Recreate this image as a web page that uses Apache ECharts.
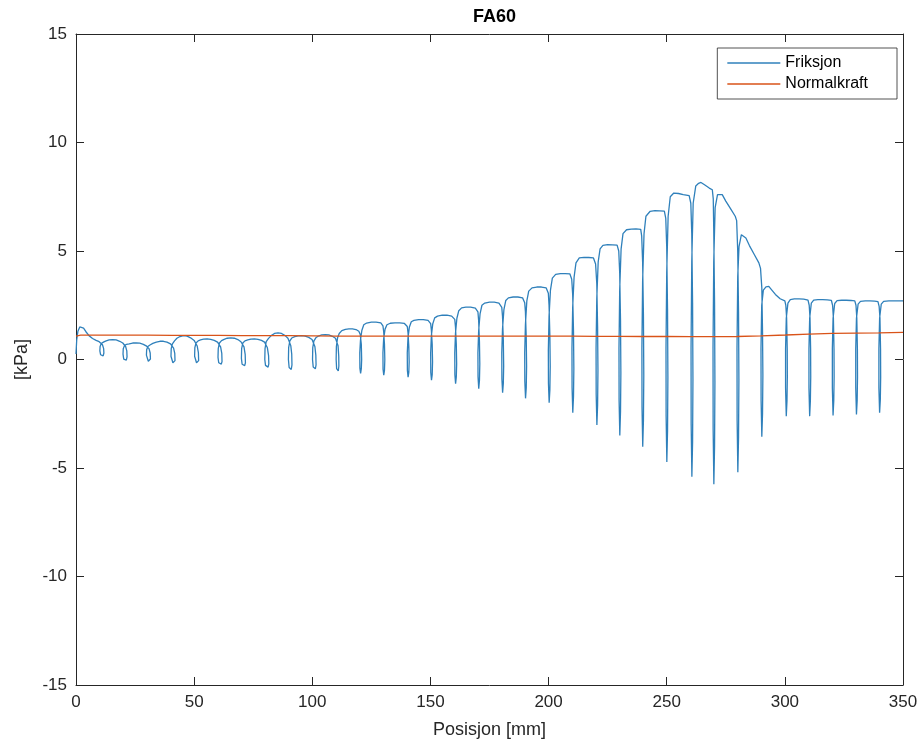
<!DOCTYPE html>
<html>
<head>
<meta charset="utf-8">
<script src="https://cdn.jsdelivr.net/npm/echarts@6/dist/echarts.min.js"></script>
<style>
html,body{margin:0;padding:0;background:#fff;}
#chart{width:921px;height:744px;}
</style>
</head>
<body>
<div id="chart"></div>
<script>
const titleText = 'FA60';
const seriesNames = ['Friksjon', 'Normalkraft'];
const xTicks = [0, 50, 100, 150, 200, 250, 300, 350];
const yTicks = [-15, -10, -5, 0, 5, 10, 15];

// Friksjon [x (mm), y (kPa)]
const friksjon = [
[0,0.25],[0.3,0.9],[0.8,1.3],[1.6,1.5],[2.4,1.53],[3.2,1.45],[4.2,1.28],[5.5,1.1],[7,0.97],[8.5,0.88],[9.8,0.82],
[10.5,0.78],[11.2,0.68],[11.7,0.5],[11.8,0.3],[11.5,0.17],[10.9,0.15],[10.4,0.22],[10.1,0.4],[10.2,0.6],[10.7,0.74],[11.6,0.8],
[12.5,0.85],[14,0.9],[15.5,0.92],[17,0.9],[18.5,0.84],[19.8,0.76],
[20.3,0.72],[21.0,0.6],[21.5,0.4],[21.6,0.12],[21.3,-0.03],[20.7,-0.05],[20.2,0.02],[19.9,0.25],[20.0,0.5],[20.5,0.64],[21.4,0.7],
[22.5,0.72],[24,0.76],[25.5,0.77],[27,0.75],[28.5,0.7],[29.7,0.63],
[30.2,0.6],[30.9,0.5],[31.4,0.3],[31.5,0.02],[31.2,-0.07],[30.6,-0.08],[30.1,-0.02],[29.8,0.2],[29.9,0.45],[30.4,0.6],[31.3,0.67],
[32.5,0.74],[34,0.8],[35.5,0.84],[37,0.84],[38.5,0.8],[40,0.72],
[40.6,0.68],[41.3,0.52],[41.8,0.28],[41.9,-0.05],[41.6,-0.14],[41.0,-0.15],[40.5,-0.08],[40.2,0.15],[40.3,0.5],[40.8,0.72],[41.7,0.86],
[42.7,0.98],[44,1.06],[45.5,1.1],[47,1.08],[48.5,1.0],[50,0.88],
[50.6,0.82],[51.3,0.62],[51.8,0.32],[51.9,-0.05],[51.6,-0.14],[51.0,-0.15],[50.5,-0.08],[50.2,0.15],[50.3,0.55],[50.8,0.76],[51.7,0.86],
[52.7,0.9],[54,0.94],[55.5,0.95],[57,0.93],[58.5,0.88],[59.9,0.8],
[60.5,0.76],[61.2,0.58],[61.7,0.28],[61.8,-0.1],[61.5,-0.21],[60.9,-0.23],[60.4,-0.15],[60.1,0.1],[60.2,0.5],[60.7,0.76],[61.6,0.87],
[62.7,0.93],[64,0.98],[65.5,1.0],[67,0.98],[68.5,0.92],[69.8,0.82],
[70.4,0.77],[71.1,0.58],[71.6,0.24],[71.7,-0.15],[71.4,-0.28],[70.8,-0.3],[70.3,-0.22],[70.0,0.05],[70.1,0.5],[70.6,0.76],[71.5,0.86],
[72.7,0.9],[74,0.94],[75.5,0.95],[77,0.93],[78.5,0.88],[79.8,0.8],
[80.3,0.76],[81.0,0.54],[81.5,0.18],[81.6,-0.2],[81.3,-0.35],[80.7,-0.37],[80.2,-0.27],[79.9,0.0],[80.0,0.5],[80.5,0.82],[81.4,0.96],
[82.6,1.1],[84,1.2],[85.5,1.23],[87,1.2],[88.5,1.1],[89.7,0.98],
[90.2,0.92],[90.9,0.64],[91.3,0.25],[91.4,-0.25],[91.1,-0.46],[90.6,-0.49],[90.2,-0.37],[89.9,0.0],[90.0,0.55],[90.5,0.86],[91.3,0.99],
[92.6,1.05],[94,1.09],[95.5,1.1],[97,1.08],[98.5,1.02],[99.9,0.92],
[100.5,0.87],[101.1,0.6],[101.5,0.2],[101.6,-0.25],[101.3,-0.43],[100.8,-0.45],[100.4,-0.35],[100.1,0.0],[100.2,0.55],[100.7,0.86],[101.5,1.0],
[102.6,1.08],[104,1.13],[105.5,1.15],[107,1.13],[108.5,1.07],[109.8,0.98],
[110.4,0.92],[110.9,0.64],[111.2,0.15],[111.25,-0.3],[111.0,-0.53],[110.6,-0.56],[110.3,-0.42],[110.1,0.0],[110.2,0.6],[110.7,1.0],[111.4,1.2],
[112.5,1.33],[114,1.39],[115.5,1.41],[117,1.41],[118.5,1.38],[119.7,1.3],
[120.3,1.15],[120.75,0.7],[120.9,0.0],[120.75,-0.42],[120.45,-0.64],[120.15,-0.4],[120.1,0.3],[120.4,0.9],[121.0,1.35],[121.8,1.6],
[123,1.68],[125,1.72],[127,1.72],[129,1.69],[129.9,1.55],
[130.2,1.3],[130.55,0.7],[130.7,0.0],[130.55,-0.5],[130.25,-0.72],[129.95,-0.45],[129.9,0.3],[130.2,0.95],[130.8,1.4],[131.6,1.6],
[133,1.67],[135,1.69],[137,1.69],[139,1.66],[140.2,1.52],
[140.5,1.25],[140.85,0.6],[141.0,-0.1],[140.85,-0.6],[140.55,-0.81],[140.25,-0.5],[140.2,0.3],[140.5,1.0],[141.1,1.5],[141.9,1.74],
[143,1.8],[145,1.84],[147,1.84],[149,1.8],[150.1,1.65],
[150.4,1.35],[150.75,0.7],[150.9,-0.1],[150.75,-0.7],[150.45,-0.95],[150.15,-0.6],[150.1,0.3],[150.4,1.1],[151.0,1.65],[151.8,1.92],
[153,2.0],[155,2.04],[157,2.04],[159,2.0],[160.3,1.85],
[160.6,1.5],[160.95,0.7],[161.1,-0.2],[160.95,-0.8],[160.65,-1.12],[160.35,-0.7],[160.3,0.3],[160.6,1.2],[161.2,1.9],[162,2.25],
[163.2,2.38],[165,2.41],[167,2.41],[169,2.37],[170.1,2.2],
[170.4,1.8],[170.75,0.8],[170.9,-0.2],[170.75,-0.95],[170.45,-1.35],[170.15,-0.8],[170.1,0.3],[170.4,1.3],[171.0,2.1],[171.8,2.5],
[173,2.6],[175,2.64],[177,2.64],[179,2.6],[180.2,2.4],
[180.5,2.0],[180.85,0.9],[181.0,-0.3],[180.85,-1.1],[180.55,-1.53],[180.25,-0.9],[180.2,0.3],[180.5,1.4],[181.1,2.3],[181.9,2.72],
[183,2.84],[185,2.88],[187,2.88],[189,2.84],[189.9,2.62],
[190.2,2.2],[190.55,1.0],[190.7,-0.3],[190.55,-1.3],[190.25,-1.79],[189.95,-1.0],[189.9,0.3],[190.2,1.6],[190.8,2.7],[191.6,3.15],
[193,3.3],[195,3.34],[197,3.34],[199,3.3],[199.9,3.05],
[200.2,2.5],[200.55,1.1],[200.7,-0.3],[200.55,-1.4],[200.25,-1.99],[199.95,-1.1],[199.9,0.4],[200.2,2.0],[200.8,3.2],[201.6,3.75],
[203,3.92],[205,3.96],[207,3.96],[209,3.95],[209.8,3.7],
[210.2,3.0],[210.55,1.3],[210.7,-0.4],[210.55,-1.7],[210.25,-2.45],[209.95,-1.3],[209.9,0.5],[210.2,2.4],[210.8,3.8],[211.6,4.45],
[213,4.68],[215,4.71],[217,4.7],[219,4.68],[219.9,4.4],
[220.4,3.5],[220.75,1.5],[220.9,-0.5],[220.75,-2.1],[220.45,-3.02],[220.15,-1.6],[220.1,0.5],[220.4,2.8],[221.0,4.5],[221.8,5.1],
[223,5.26],[225,5.29],[227,5.28],[229,5.27],[229.7,5.0],
[230.1,4.0],[230.45,1.8],[230.6,-0.6],[230.45,-2.4],[230.15,-3.5],[229.85,-1.9],[229.8,0.5],[230.1,3.2],[230.7,5.1],[231.5,5.8],
[233,5.98],[235,6.01],[237,6.02],[239,6.0],[239.4,5.7],
[239.8,4.5],[240.15,2.0],[240.3,-0.7],[240.15,-2.8],[239.85,-4.02],[239.55,-2.2],[239.5,0.5],[239.8,3.6],[240.4,5.8],[241.2,6.6],
[243,6.83],[245,6.86],[247,6.85],[249,6.84],[249.6,6.5],
[250.0,5.2],[250.35,2.3],[250.5,-0.8],[250.35,-3.3],[250.05,-4.72],[249.75,-2.6],[249.7,0.5],[250.0,4.0],[250.6,6.6],[251.5,7.5],
[253,7.67],[255,7.65],[257,7.6],[259.5,7.55],[260.2,7.2],
[260.6,5.8],[260.95,2.6],[261.1,-0.9],[260.95,-3.8],[260.65,-5.4],[260.35,-3.0],[260.3,0.5],[260.6,4.5],[261.2,7.2],[262.3,8.0],
[263.5,8.12],[264.5,8.16],[266,8.05],[268,7.9],[269.3,7.82],[269.7,7.4],
[269.9,6.0],[270.25,2.6],[270.4,-1.0],[270.25,-4.0],[269.95,-5.75],[269.65,-3.2],[269.6,0.5],[269.9,4.5],[270.5,7.0],[271.5,7.6],
[272.3,7.67],[273.5,7.6],[275,7.3],[277,6.95],[279,6.6],[279.6,6.4],
[280.05,5.0],[280.4,2.2],[280.55,-0.9],[280.4,-3.6],[280.1,-5.19],[279.8,-2.8],[279.75,0.5],[280.05,3.8],[280.6,5.2],[281.6,5.75],
[282.3,5.8],[283.5,5.6],[285,5.25],[287,4.85],[289,4.45],[289.7,4.2],
[290.25,3.3],[290.55,1.3],[290.7,-0.7],[290.55,-2.5],[290.25,-3.56],[289.95,-1.9],[289.9,0.5],[290.2,2.5],[290.9,3.2],[292,3.35],
[293.2,3.37],[294.5,3.2],[296,3.0],[298,2.8],[300,2.7],[300.4,2.5],
[300.75,1.9],[301.0,0.5],[301.05,-0.8],[300.9,-1.9],[300.6,-2.61],[300.3,-1.3],[300.3,0.5],[300.6,1.9],[301.3,2.6],[302.3,2.76],
[304,2.79],[306,2.79],[308,2.78],[309.8,2.74],[310.3,2.5],
[310.65,1.9],[310.9,0.5],[310.95,-0.8],[310.8,-1.9],[310.5,-2.61],[310.2,-1.3],[310.2,0.5],[310.5,1.9],[311.2,2.6],[312.2,2.74],
[314,2.76],[316,2.76],[318,2.75],[319.7,2.72],[320.2,2.5],
[320.55,1.9],[320.8,0.5],[320.85,-0.8],[320.7,-1.9],[320.4,-2.58],[320.1,-1.3],[320.1,0.5],[320.4,1.9],[321.1,2.58],[322.1,2.71],
[324,2.73],[326,2.73],[328,2.72],[329.6,2.7],[330.1,2.5],
[330.45,1.9],[330.7,0.5],[330.75,-0.8],[330.6,-1.9],[330.3,-2.53],[330.0,-1.3],[330.0,0.5],[330.3,1.9],[331.0,2.55],[332,2.68],
[334,2.7],[336,2.7],[338,2.69],[339.4,2.67],[339.9,2.45],
[340.25,1.9],[340.5,0.5],[340.55,-0.8],[340.4,-1.85],[340.1,-2.45],[339.8,-1.3],[339.8,0.5],[340.1,1.9],[340.8,2.55],[341.8,2.68],
[344,2.7],[347,2.7],[350,2.7]
];

// Normalkraft [x (mm), y (kPa)]
const normalkraft = [
[0,1.08],[2,1.12],
[10.4,1.12],[10.8,1.2],[11.2,1.12],
[20.2,1.12],[20.6,1.2],[21.0,1.12],
[30.1,1.12],[30.5,1.2],[30.9,1.12],
[40.5,1.11],[40.9,1.19],[41.3,1.11],
[50.5,1.11],[50.9,1.19],[51.3,1.11],
[60.4,1.11],[60.8,1.19],[61.2,1.11],
[70.3,1.1],[70.7,1.18],[71.1,1.1],
[80.2,1.1],[80.6,1.18],[81.0,1.1],
[90.1,1.1],[90.5,1.18],[90.9,1.1],
[100.4,1.09],[100.8,1.17],[101.2,1.09],
[110.3,1.08],[110.7,1.16],[111.1,1.08],
[120.0,1.08],[120.4,1.16],[120.8,1.08],
[129.9,1.08],[130.3,1.16],[130.7,1.08],
[140.2,1.08],[140.6,1.16],[141.0,1.08],
[150.1,1.08],[150.5,1.16],[150.9,1.08],
[160.3,1.08],[160.7,1.16],[161.1,1.08],
[170.1,1.08],[170.5,1.16],[170.9,1.08],
[180.2,1.08],[180.6,1.16],[181.0,1.08],
[189.9,1.08],[190.3,1.16],[190.7,1.08],
[199.9,1.08],[200.3,1.16],[200.7,1.08],
[209.9,1.08],[210.3,1.16],[210.7,1.08],
[220.1,1.07],[220.5,1.15],[220.9,1.07],
[229.8,1.07],[230.2,1.15],[230.6,1.07],
[239.5,1.06],[239.9,1.14],[240.3,1.06],
[249.7,1.06],[250.1,1.14],[250.5,1.06],
[260.3,1.05],[260.7,1.13],[261.1,1.05],
[269.6,1.05],[270.0,1.13],[270.4,1.05],
[279.7,1.06],[280.1,1.14],[280.5,1.06],
[289.9,1.09],[290.3,1.17],[290.7,1.09],
[300.3,1.13],[300.7,1.21],[301.1,1.13],
[310.2,1.17],[310.6,1.25],[311.0,1.17],
[320.1,1.2],[320.5,1.28],[320.9,1.2],
[330.0,1.22],[330.4,1.3],[330.8,1.22],
[339.8,1.23],[340.2,1.31],[340.6,1.23],
[350,1.25]
];

const axisColor = '#262626';
const font = '"Liberation Sans", Arial, Helvetica, sans-serif';

const chart = echarts.init(document.getElementById('chart'), null, {renderer: 'canvas'});

const baseX = {
  type: 'value', min: xTicks[0], max: xTicks[xTicks.length - 1], interval: 50,
  splitLine: {show: false},
  axisLine: {show: true, onZero: false, lineStyle: {color: axisColor, width: 1}},
  axisTick: {show: true, inside: true, length: 8, lineStyle: {color: axisColor, width: 1}}
};
const baseY = {
  type: 'value', min: yTicks[0], max: yTicks[yTicks.length - 1], interval: 5,
  splitLine: {show: false},
  axisLine: {show: true, onZero: false, lineStyle: {color: axisColor, width: 1}},
  axisTick: {show: true, inside: true, length: 8, lineStyle: {color: axisColor, width: 1}}
};

chart.setOption({
  animation: false,
  backgroundColor: '#ffffff',
  title: {
    text: titleText, left: 468, top: 3,
    textStyle: {fontFamily: font, fontSize: 18, fontWeight: 'bold', color: '#000'}
  },
  legend: {
    data: seriesNames, orient: 'vertical', right: 24, top: 48,
    icon: 'rect', itemWidth: 53, itemHeight: 1.5, itemGap: 5,
    padding: [7, 29, 7, 10],
    backgroundColor: '#fff', borderColor: axisColor, borderWidth: 0.8, borderRadius: 0,
    textStyle: {fontFamily: font, fontSize: 16, color: '#000'}
  },
  grid: {left: 76, right: 18, top: 34, bottom: 58, containLabel: false},
  xAxis: [
    Object.assign({}, baseX, {
      position: 'bottom',
      axisLabel: {show: true, color: axisColor, fontFamily: font, fontSize: 17, margin: 9},
      name: 'Posisjon [mm]', nameLocation: 'middle', nameGap: 36,
      nameTextStyle: {fontFamily: font, fontSize: 18, color: axisColor}
    }),
    Object.assign({}, baseX, {position: 'top', axisLabel: {show: false}})
  ],
  yAxis: [
    Object.assign({}, baseY, {
      position: 'left',
      axisLabel: {show: true, color: axisColor, fontFamily: font, fontSize: 17, margin: 9},
      name: '[kPa]', nameLocation: 'middle', nameGap: 44,
      nameTextStyle: {fontFamily: font, fontSize: 18, color: axisColor}
    }),
    Object.assign({}, baseY, {position: 'right', axisLabel: {show: false}})
  ],
  series: [
    {
      name: seriesNames[0], type: 'line', data: friksjon, xAxisIndex: 0, yAxisIndex: 0,
      showSymbol: false, symbol: 'none', smooth: false, clip: true,
      lineStyle: {color: '#2f80bb', width: 1.3}, itemStyle: {color: '#2f80bb'}
    },
    {
      name: seriesNames[1], type: 'line', data: normalkraft, xAxisIndex: 0, yAxisIndex: 0,
      showSymbol: false, symbol: 'none', smooth: false, clip: true,
      lineStyle: {color: '#D95319', width: 1.3}, itemStyle: {color: '#D95319'}
    }
  ]
});
</script>
</body>
</html>
